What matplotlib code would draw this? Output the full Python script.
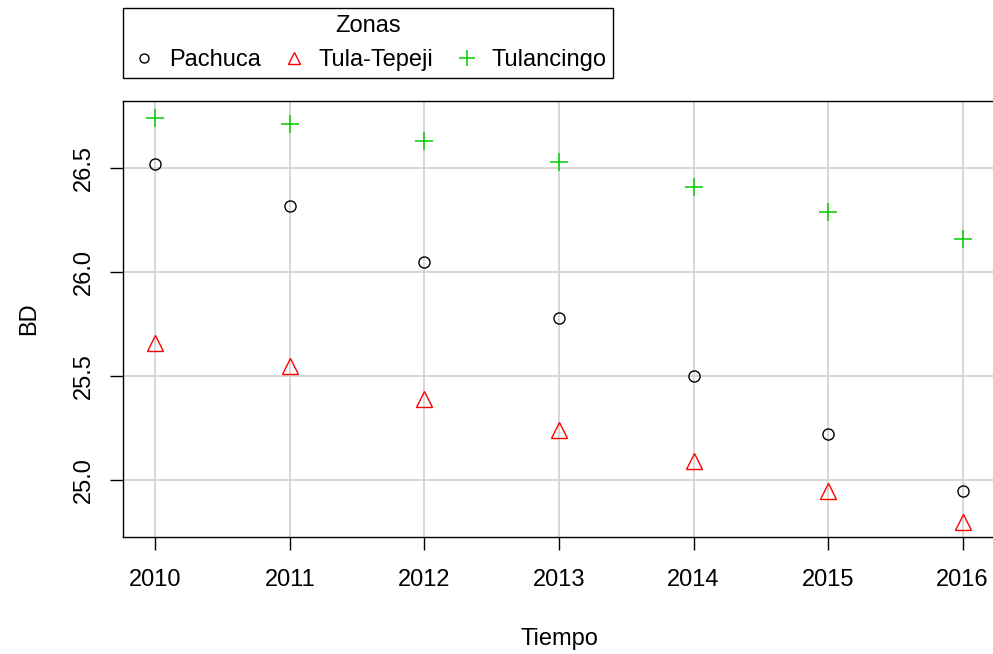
import matplotlib.pyplot as plt
from matplotlib.lines import Line2D

plt.rcParams['font.family'] = ['Liberation Sans', 'DejaVu Sans']

years = [2010, 2011, 2012, 2013, 2014, 2015, 2016]
pachuca = [26.52, 26.32, 26.05, 25.78, 25.50, 25.22, 24.95]
tula = [25.66, 25.55, 25.39, 25.24, 25.09, 24.95, 24.80]
tulancingo = [26.74, 26.71, 26.63, 26.53, 26.41, 26.29, 26.16]
y_ticks = [25.0, 25.5, 26.0, 26.5]

fig = plt.figure(figsize=(9.93, 6.54), dpi=100)
ax = fig.add_axes([0.1239, 0.1789, 0.878, 0.6667])

ax.grid(True, color='#d3d3d3', linewidth=1.3)
ax.set_axisbelow(True)

ax.plot(years, pachuca, linestyle='none', marker='o', markersize=8,
        markerfacecolor='none', markeredgecolor='black', markeredgewidth=1.0)
ax.plot(years, tula, linestyle='none', marker='^', markersize=11,
        markerfacecolor='none', markeredgecolor='red', markeredgewidth=1.0)
ax.plot(years, tulancingo, linestyle='none', marker='+', markersize=13,
        markeredgecolor='#00cc00', markeredgewidth=1.1)

ax.set_xlim(2009.76, 2016.24)
ax.set_ylim(24.727, 26.823)
ax.set_xticks(years)
ax.set_yticks(y_ticks)
ax.set_yticklabels([f'{v:.1f}' for v in y_ticks], rotation=90, va='center')
ax.tick_params(direction='out', length=9.5, width=1, labelsize=17, pad=13.5)
ax.tick_params(axis='y', pad=10.5)
for side in ['left', 'bottom', 'top']:
    ax.spines[side].set_linewidth(1.0)
ax.spines['right'].set_visible(False)

ax.set_xlabel('Tiempo', fontsize=17, labelpad=27)
ax.set_ylabel('BD', fontsize=17, labelpad=24)

handles = [
    Line2D([], [], linestyle='none', marker='o', markersize=6.5,
           markerfacecolor='none', markeredgecolor='black', markeredgewidth=1.0),
    Line2D([], [], linestyle='none', marker='^', markersize=9,
           markerfacecolor='none', markeredgecolor='red', markeredgewidth=1.0),
    Line2D([], [], linestyle='none', marker='+', markersize=12,
           markeredgecolor='#00cc00', markeredgewidth=1.1),
]
leg = fig.legend(handles, ['Pachuca', 'Tula-Tepeji', 'Tulancingo'],
                 title='Zonas', ncol=3, loc='upper left',
                 bbox_to_anchor=(123 / 993, 1 - 8 / 654),
                 fontsize=17, title_fontsize=17, frameon=True,
                 fancybox=False, edgecolor='black', framealpha=1,
                 borderpad=0.3, handletextpad=0.45, columnspacing=0.8,
                 handlelength=1.2, borderaxespad=0, labelspacing=0.5)
leg.get_frame().set_linewidth(1.0)

fig.savefig('out.png', dpi=100)
